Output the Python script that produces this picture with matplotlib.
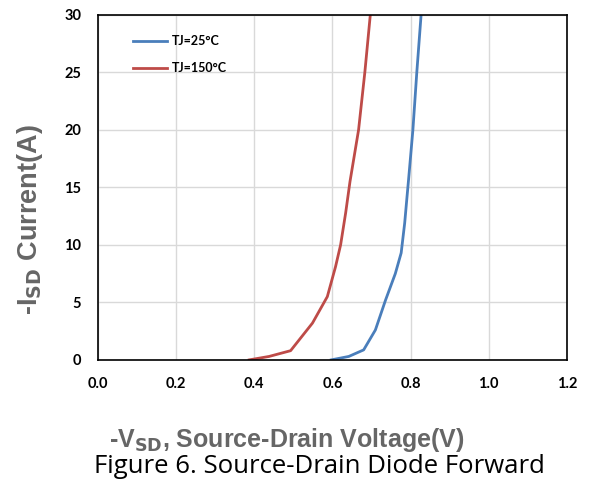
import numpy as np
import matplotlib.pyplot as plt

vsd_25 = [0.597, 0.642, 0.680, 0.710, 0.736, 0.761, 0.776, 0.785, 0.791, 0.795, 0.806, 0.816, 0.827]
isd_25 = [0.0, 0.3, 0.87, 2.6, 5.2, 7.5, 9.3, 11.9, 14.2, 15.7, 20.0, 25.0, 30.0]

vsd_150 = [0.387, 0.438, 0.493, 0.549, 0.587, 0.608, 0.621, 0.634, 0.645, 0.667, 0.683, 0.697]
isd_150 = [0.0, 0.3, 0.8, 3.2, 5.5, 8.1, 10.0, 12.8, 15.5, 20.0, 25.0, 30.0]

x_ticks = [0.0, 0.2, 0.4, 0.6, 0.8, 1.0, 1.2]
y_ticks = [0, 5, 10, 15, 20, 25, 30]

plt.rcParams['font.family'] = ['Liberation Sans', 'DejaVu Sans']

fig = plt.figure(figsize=(5.92, 4.93), dpi=100)
ax = fig.add_axes([0.1655, 0.270, 0.792, 0.700])

ax.plot(vsd_25, isd_25, color='#4a7ebb', lw=2, label='TJ=25°C')
ax.plot(vsd_150, isd_150, color='#be4b48', lw=2, label='TJ=150°C')

ax.set_xlim(0, 1.2)
ax.set_ylim(0, 30)
ax.set_xticks(x_ticks)
ax.set_yticks(y_ticks)
ax.set_xticklabels(['%.1f' % v for v in x_ticks], fontweight='bold', fontsize=10.5, family='Lato')
ax.set_yticklabels([str(v) for v in y_ticks], fontweight='bold', fontsize=10.5, family='Lato')
ax.tick_params(length=0, pad=12)
ax.grid(True, color='#d9d9d9', lw=1)
ax.set_axisbelow(True)
for s in ax.spines.values():
    s.set_color('black')
    s.set_linewidth(1.2)

leg = ax.legend(loc='upper left', bbox_to_anchor=(0.075, 0.94), frameon=False,
                borderpad=0, borderaxespad=0,
                handlelength=2.7, handletextpad=0.4, labelspacing=1.2,
                prop={'family': 'Lato', 'weight': 'bold', 'size': 9})

fig.text(0.051, 0.555, r'-I$_{\mathbf{SD}}$ Current(A)', rotation=90, ha='center', va='center',
         fontsize=19.5, fontweight='bold', color='#666666')
fig.text(0.484, 0.094, r'-V$_{\mathbf{SD}}$, Source-Drain Voltage(V)', ha='center', va='baseline',
         fontsize=18, fontweight='bold', color='#666666')
fig.text(0.540, 0.0406, 'Figure 6. Source-Drain Diode Forward', ha='center', va='baseline',
         fontsize=18.5, family='Open Sans', color='black')

fig.savefig('out.png', dpi=100)
